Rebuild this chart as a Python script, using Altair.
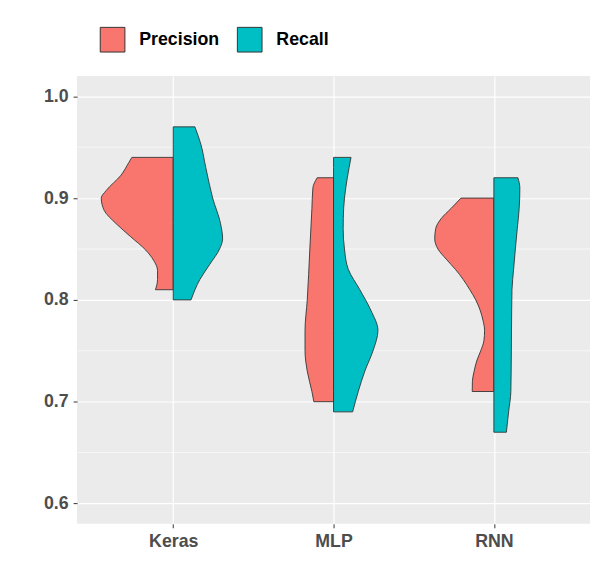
import altair as alt
import pandas as pd

categories = ["Keras", "MLP", "RNN"]
series = ["Precision", "Recall"]
colors = ["#F8766D", "#00BFC4"]

# density outline: y value and half-width (in category units)
keras_prec_y = [0.94, 0.935, 0.9225, 0.9075, 0.90, 0.888, 0.875, 0.862, 0.849, 0.839, 0.829, 0.82, 0.81]
keras_prec_w = [0.258, 0.277, 0.326, 0.418, 0.449, 0.431, 0.357, 0.265, 0.172, 0.123, 0.098, 0.098, 0.111]

keras_rec_y = [0.97, 0.953, 0.93, 0.90, 0.875, 0.86, 0.85, 0.835, 0.82, 0.80]
keras_rec_w = [0.135, 0.172, 0.203, 0.246, 0.295, 0.308, 0.289, 0.228, 0.166, 0.111]

mlp_prec_y = [0.92, 0.91, 0.89, 0.85, 0.80, 0.77, 0.75, 0.73, 0.71, 0.70]
mlp_prec_w = [0.102, 0.129, 0.135, 0.148, 0.164, 0.178, 0.178, 0.164, 0.135, 0.123]

mlp_rec_y = [0.94, 0.93, 0.91, 0.89, 0.87, 0.85, 0.83, 0.81, 0.79, 0.77, 0.75, 0.73, 0.71, 0.69]
mlp_rec_w = [0.109, 0.097, 0.076, 0.063, 0.060, 0.068, 0.092, 0.164, 0.232, 0.277, 0.246, 0.195, 0.154, 0.119]

rnn_prec_y = [0.90, 0.89, 0.88, 0.87, 0.86, 0.85, 0.84, 0.83, 0.82, 0.81, 0.80, 0.79, 0.78, 0.77, 0.76, 0.75, 0.74, 0.73, 0.72, 0.71]
rnn_prec_w = [0.205, 0.266, 0.328, 0.363, 0.369, 0.349, 0.297, 0.240, 0.191, 0.150, 0.113, 0.086, 0.068, 0.058, 0.062, 0.082, 0.107, 0.123, 0.134, 0.135]

rnn_rec_y = [0.92, 0.91, 0.89, 0.87, 0.85, 0.83, 0.81, 0.79, 0.75, 0.71, 0.69, 0.67]
rnn_rec_w = [0.150, 0.162, 0.158, 0.146, 0.134, 0.123, 0.113, 0.111, 0.109, 0.106, 0.092, 0.078]

major_ticks = [0.6, 0.7, 0.8, 0.9, 1.0]
minor_ticks = [0.65, 0.75, 0.85, 0.95]

groups = [
    ("Keras", "Precision", keras_prec_y, keras_prec_w),
    ("Keras", "Recall", keras_rec_y, keras_rec_w),
    ("MLP", "Precision", mlp_prec_y, mlp_prec_w),
    ("MLP", "Recall", mlp_rec_y, mlp_rec_w),
    ("RNN", "Precision", rnn_prec_y, rnn_prec_w),
    ("RNN", "Recall", rnn_rec_y, rnn_rec_w),
]

rows = []
for cat, ser, ys, ws in groups:
    idx = categories.index(cat) + 1
    for yv, wv in zip(ys, ws):
        if ser == "Precision":
            lo, hi = idx - wv, idx
        else:
            lo, hi = idx, idx + wv
        rows.append({"model": cat, "metric": ser, "value": yv, "lo": lo, "hi": hi})
df = pd.DataFrame(rows)

label_expr = " : ".join(
    [f"datum.value == {i + 1} ? '{c}'" for i, c in enumerate(categories)]
) + " : ''"

x_scale = alt.Scale(domain=[0.4, 3.6], nice=False, zero=False)
y_scale = alt.Scale(domain=[0.58, 1.02], nice=False, zero=False)

minor = alt.Chart(pd.DataFrame({"v": minor_ticks})).mark_rule(
    color="white", strokeWidth=0.6
).encode(y=alt.Y("v:Q", scale=y_scale))

violins = alt.Chart(df).mark_area(
    orient="horizontal", stroke="#333333", strokeWidth=0.9, opacity=1,
    interpolate="monotone"
).encode(
    y=alt.Y("value:Q", scale=y_scale, title=None,
            axis=alt.Axis(values=major_ticks, format=".1f", grid=True)),
    x=alt.X("lo:Q", scale=x_scale, title=None,
            axis=alt.Axis(values=[1, 2, 3], labelExpr=label_expr, grid=True)),
    x2="hi:Q",
    color=alt.Color("metric:N", scale=alt.Scale(domain=series, range=colors),
                    legend=alt.Legend(title=None, orient="none", direction="horizontal",
                                      legendX=23, legendY=-50, symbolType="square",
                                      symbolSize=625, symbolStrokeColor="#333333",
                                      symbolStrokeWidth=1, symbolOpacity=1,
                                      labelFontSize=18, labelFont="Liberation Sans",
                                      labelFontWeight="bold", labelColor="black",
                                      labelOffset=14, columnPadding=15, padding=0)),
    detail="model:N",
)

chart = alt.layer(minor, violins).properties(
    width=520, height=454,
    padding={"left": 70, "top": 65, "right": 4, "bottom": 50},
    autosize=alt.AutoSizeParams(type="none"),
    background="white",
).configure_view(
    fill="#EBEBEB", stroke=None
).configure_axis(
    domain=False, gridColor="white", gridWidth=1.2,
    tickColor="#333333", tickSize=4, tickWidth=1,
    labelFont="Liberation Sans", labelFontSize=18, labelFontWeight="bold",
    labelColor="#4d4d4d", labelPadding=5,
)

chart.save("out.html", embed_options={"renderer": "svg", "actions": False})
